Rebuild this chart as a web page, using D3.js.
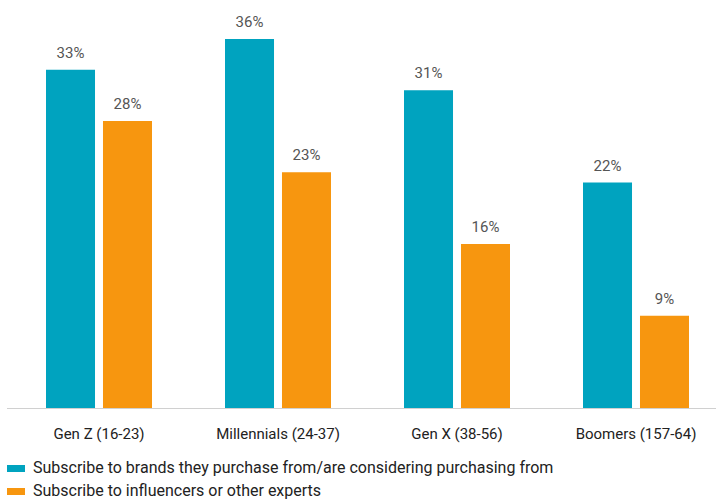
<!DOCTYPE html>
<html>
<head>
<meta charset="utf-8">
<script src="https://cdn.jsdelivr.net/npm/d3@7"></script>
<style>
  html, body { margin: 0; padding: 0; background: #fff; }
  svg { display: block; }
</style>
</head>
<body>
<svg id="chart" width="716" height="502"></svg>
<script>
// Generations and the share of each who subscribe to newsletters
const categories = ["Gen Z (16-23)", "Millennials (24-37)", "Gen X (38-56)", "Boomers (157-64)"];
const seriesNames = [
  "Subscribe to brands they purchase from/are considering purchasing from",
  "Subscribe to influencers or other experts"
];
const brands = [33, 36, 31, 22];
const influencers = [28, 23, 16, 9];
const colors = ["#00A3BF", "#F7960F"];

const svg = d3.select("#chart");
const fontFamily = "Roboto, 'Open Sans', sans-serif";

const baseY = 408;
const y = d3.scaleLinear().domain([0, 36]).range([baseY, 39]);

const x0 = d3.scaleBand().domain(categories).range([9.5, 725.5]).padding(0);
const keys = [0, 1];
const x1 = d3.scaleBand().domain(keys).range([36.5, 142.5]).paddingInner(0.14).paddingOuter(0);

const rows = categories.map((c, i) => ({ cat: c, vals: [brands[i], influencers[i]] }));

const groups = svg.selectAll("g.grp").data(rows).join("g")
  .attr("class", "grp")
  .attr("transform", d => `translate(${x0(d.cat)},0)`);

groups.selectAll("rect").data(d => d.vals.map((v, k) => ({ k, v }))).join("rect")
  .attr("x", d => x1(d.k))
  .attr("y", d => y(d.v))
  .attr("width", x1.bandwidth())
  .attr("height", d => baseY - y(d.v))
  .attr("fill", d => colors[d.k]);

groups.selectAll("text.val").data(d => d.vals.map((v, k) => ({ k, v }))).join("text")
  .attr("class", "val")
  .attr("x", d => x1(d.k) + x1.bandwidth() / 2)
  .attr("y", d => y(d.v) - 12)
  .attr("text-anchor", "middle")
  .attr("font-family", fontFamily)
  .attr("font-size", 15)
  .attr("fill", "#555")
  .text(d => d.v + "%");

// Baseline
svg.append("line")
  .attr("x1", 7).attr("x2", 716)
  .attr("y1", baseY + 0.5).attr("y2", baseY + 0.5)
  .attr("stroke", "#d0d0d0").attr("stroke-width", 1);

// Category axis labels
const xAxis = d3.axisBottom(x0).tickSize(0).tickPadding(0);
const axisG = svg.append("g").attr("transform", `translate(0,${baseY})`).call(xAxis);
axisG.select(".domain").remove();
axisG.selectAll("text")
  .attr("y", 31)
  .attr("dy", 0)
  .attr("dx", 0)
  .attr("font-family", fontFamily)
  .attr("font-size", 15)
  .attr("fill", "#222");
axisG.selectAll(".tick").attr("transform", d => `translate(${x0(d) + 89.5},0)`);

// Legend
const legend = svg.append("g");
seriesNames.forEach((name, i) => {
  const ly = 465 + i * 23;
  legend.append("rect")
    .attr("x", 7).attr("y", ly)
    .attr("width", 18).attr("height", 7)
    .attr("fill", colors[i]);
  legend.append("text")
    .attr("x", 33).attr("y", ly + 8)
    .attr("font-family", fontFamily)
    .attr("font-size", 16)
    .attr("fill", "#222")
    .text(name);
});
</script>
</body>
</html>
